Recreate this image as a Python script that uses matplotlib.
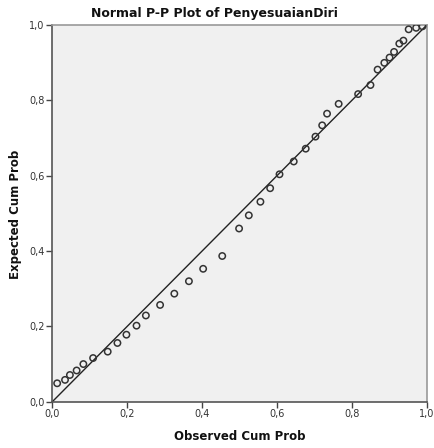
import matplotlib
matplotlib.use("Agg")
import matplotlib.pyplot as plt
from matplotlib.ticker import FuncFormatter

observed = [0.013, 0.034, 0.047, 0.065, 0.083, 0.109, 0.148, 0.174, 0.198, 0.225,
            0.250, 0.288, 0.326, 0.365, 0.403, 0.454, 0.499, 0.525, 0.556, 0.582,
            0.607, 0.645, 0.677, 0.703, 0.721, 0.734, 0.765, 0.817, 0.850, 0.869,
            0.887, 0.901, 0.913, 0.927, 0.938, 0.952, 0.972, 0.989]
expected = [0.049, 0.058, 0.071, 0.083, 0.100, 0.116, 0.133, 0.156, 0.178, 0.202,
            0.229, 0.257, 0.287, 0.320, 0.353, 0.387, 0.460, 0.495, 0.531, 0.567,
            0.604, 0.638, 0.672, 0.704, 0.734, 0.765, 0.791, 0.817, 0.841, 0.882,
            0.900, 0.914, 0.929, 0.951, 0.959, 0.989, 0.993, 0.997]
ticks = [0.0, 0.2, 0.4, 0.6, 0.8, 1.0]

plt.rcParams['font.family'] = ['DejaVu Sans']

fig = plt.figure(figsize=(4.34, 4.48), dpi=100)
ax = fig.add_axes([0.1205, 0.1033, 0.8625, 0.8405])
ax.set_facecolor('#f0f0f0')

ax.plot([0, 1], [0, 1], color='#222222', lw=1.0, zorder=2)
ax.scatter(observed, expected, s=21, facecolors='none', edgecolors='#333333',
           linewidths=1.1, zorder=3)

ax.set_xlim(0, 1)
ax.set_ylim(0, 1)
ax.set_xticks(ticks)
ax.set_yticks(ticks)
fmt = FuncFormatter(lambda v, p: f"{v:.1f}".replace('.', ','))
ax.xaxis.set_major_formatter(fmt)
ax.yaxis.set_major_formatter(fmt)
ax.tick_params(direction='out', length=4, width=1, color='#444444',
               labelsize=7, labelcolor='#333333', pad=1.5)

for s in ['left', 'bottom']:
    ax.spines[s].set_color('#555555')
    ax.spines[s].set_linewidth(1.2)
for s in ['top', 'right']:
    ax.spines[s].set_color('#999999')
    ax.spines[s].set_linewidth(1.2)

fig.text(240 / 434, 1 - 436 / 448, 'Observed Cum Prob', ha='center', va='center',
         fontsize=8.5, fontweight='bold', color='#111111')
fig.text(16 / 434, 1 - 214 / 448, 'Expected Cum Prob', ha='center', va='center',
         rotation=90, fontsize=8.5, fontweight='bold', color='#111111')
fig.text(214 / 434, 1 - 13 / 448, 'Normal P-P Plot of PenyesuaianDiri',
         ha='center', va='center', fontsize=9, fontweight='bold', color='#111111')

fig.savefig('out.png', dpi=100, facecolor='white')
